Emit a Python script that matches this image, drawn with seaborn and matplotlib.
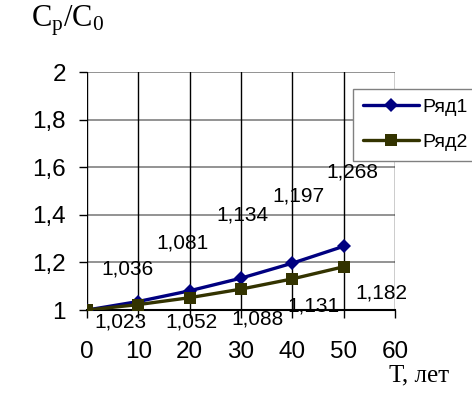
import matplotlib
matplotlib.use("Agg")
import matplotlib.pyplot as plt
import pandas as pd
import seaborn as sns

# values
years = [0, 10, 20, 30, 40, 50]
series_names = ["Ряд1", "Ряд2"]
ryad1 = [1.0, 1.036, 1.081, 1.134, 1.197, 1.268]
ryad2 = [1.0, 1.023, 1.052, 1.088, 1.131, 1.182]
x_ticks = [0, 10, 20, 30, 40, 50, 60]
y_ticks = [1.0, 1.2, 1.4, 1.6, 1.8, 2.0]

# label offsets in pixels (dx, dy) relative to each point, as in the original
offsets1 = [None, (-11, 33), (-7, 48), (1, 63), (6, 67), (9, 74)]
offsets2 = [None, (-18, -17), (2, -24), (17, -30), (21, -27), (38, -26)]

sns.set_style("white")
plt.rcParams["font.family"] = ["Liberation Sans", "DejaVu Sans"]
plt.rcParams["mathtext.fontset"] = "custom"
plt.rcParams["mathtext.rm"] = "Liberation Serif"
plt.rcParams["text.color"] = "black"
plt.rcParams["xtick.color"] = "black"
plt.rcParams["ytick.color"] = "black"

df = pd.DataFrame({
    "T": years * 2,
    "ratio": ryad1 + ryad2,
    "series": [series_names[0]] * len(years) + [series_names[1]] * len(years),
})

fig = plt.figure(figsize=(4.72, 3.96), dpi=100)
ax = fig.add_axes([0.184, 0.217, 0.653, 0.601])

colors = {"Ряд1": "#000080", "Ряд2": "#333300"}
sns.lineplot(
    data=df, x="T", y="ratio", hue="series", style="series",
    palette=colors, markers={"Ряд1": "D", "Ряд2": "s"}, dashes=False,
    linewidth=2.4, markersize=9, markeredgewidth=0, ax=ax, legend=False,
    zorder=3,
)
for line in ax.lines:
    if line.get_marker() == "D":
        line.set_markersize(7.5)

ax.set_xlim(0, 60)
ax.set_ylim(1, 2)
ax.set_xticks(x_ticks)
ax.set_yticks(y_ticks)
ax.set_yticklabels([f"{v:g}".replace(".", ",") for v in y_ticks])
ax.tick_params(axis="both", labelsize=17.5, direction="out", length=6, width=1,
               color="black", labelcolor="black", left=True, bottom=True)
ax.tick_params(axis="x", pad=16)
ax.tick_params(axis="y", pad=9)
ax.set_xlabel("")
ax.set_ylabel("")

for y in y_ticks[1:]:
    ax.axhline(y, color="#808080", lw=1.2, zorder=1)
for x in x_ticks:
    ax.axvline(x, color="black", lw=1.0, zorder=1)
for side in ["top", "right", "left"]:
    ax.spines[side].set_visible(False)
ax.spines["bottom"].set_color("black")
ax.spines["bottom"].set_linewidth(1.5)
ax.spines["bottom"].set_zorder(2)

# data labels
for vals, offs in [(ryad1, offsets1), (ryad2, offsets2)]:
    for x, y, off in zip(years, vals, offs):
        if off is None:
            continue
        ax.annotate(f"{y:.3f}".replace(".", ","), (x, y),
                    xytext=(off[0] * 0.72, off[1] * 0.72), textcoords="offset points",
                    ha="center", va="center", fontsize=15, color="black",
                    annotation_clip=False, zorder=4)

# legend
handles = [
    plt.Line2D([], [], color=colors["Ряд1"], marker="D", markersize=7.5, lw=2.4, markeredgewidth=0),
    plt.Line2D([], [], color=colors["Ряд2"], marker="s", markersize=9, lw=2.4, markeredgewidth=0),
]
leg = fig.legend(handles, series_names, loc="upper left", bbox_to_anchor=(0.748, 0.776),
                 frameon=True, fancybox=False, fontsize=14, handlelength=2.9,
                 handletextpad=0.15, labelspacing=0.9, borderpad=0.5, borderaxespad=0)
leg.get_frame().set_edgecolor("#808080")
leg.get_frame().set_linewidth(1.0)
leg.get_frame().set_alpha(1)

fig.text(0.065, 0.948, r"$\mathrm{C_p/C_0}$", fontsize=22, ha="left", va="center")
fig.text(0.825, 0.053, "Т, лет", fontsize=18, family=["Liberation Serif", "DejaVu Serif"],
         ha="left", va="center")

fig.savefig("out.png", dpi=100)
